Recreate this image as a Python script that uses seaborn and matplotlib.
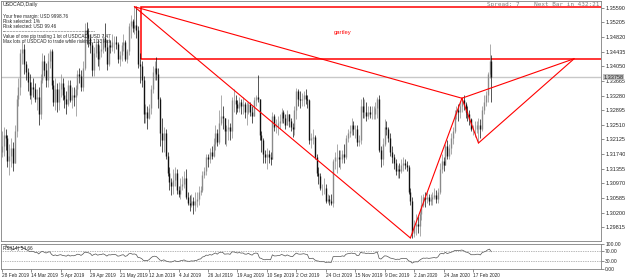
import numpy as np
import pandas as pd
import matplotlib
matplotlib.use('Agg')
import matplotlib.pyplot as plt
import matplotlib.transforms as mtrans
from matplotlib.patches import Rectangle
import seaborn as sns

# USDCAD daily, 20 Feb 2019 .. 2 Mar 2020 (one entry per bar)
closes = [
    # Feb 2019
    1.3195, 1.3225, 1.3215, 1.3155, 1.3170, 1.3190, 1.3150,
    # Mar
    1.3235, 1.3320, 1.3350, 1.3440, 1.3450, 1.3410, 1.3390,
    1.3365, 1.3330, 1.3350, 1.3345, 1.3320, 1.3325, 1.3280, 1.3370, 1.3420, 1.3395, 1.3370, 1.3420, 1.3445, 1.3355,
    # Apr
    1.3310, 1.3345, 1.3310, 1.3345, 1.3360, 1.3330, 1.3320, 1.3305, 1.3355, 1.3315, 1.3330,
    1.3325, 1.3345, 1.3385, 1.3380, 1.3350, 1.3400, 1.3500, 1.3490, 1.3480, 1.3460, 1.3395,
    # May
    1.3440, 1.3465, 1.3425, 1.3445, 1.3450, 1.3480, 1.3455, 1.3410, 1.3460, 1.3455, 1.3470, 1.3470,
    1.3465, 1.3425, 1.3435, 1.3460, 1.3470, 1.3425, 1.3445, 1.3510, 1.3525, 1.3505, 1.3515,
    # Jun
    1.3500, 1.3410, 1.3405, 1.3370, 1.3280, 1.3285, 1.3270, 1.3295, 1.3345, 1.3390,
    1.3400, 1.3385, 1.3320, 1.3230, 1.3210, 1.3230, 1.3170, 1.3125, 1.3100, 1.3090,
    # Jul
    1.3105, 1.3125, 1.3080, 1.3070, 1.3090, 1.3095, 1.3110, 1.3060, 1.3045, 1.3040, 1.3050, 1.3040,
    1.3050, 1.3055, 1.3075, 1.3080, 1.3120, 1.3130, 1.3165, 1.3160, 1.3180, 1.3170, 1.3200,
    # Aug
    1.3230, 1.3205, 1.3255, 1.3275, 1.3270, 1.3235, 1.3240, 1.3245, 1.3235, 1.3315, 1.3315,
    1.3305, 1.3295, 1.3310, 1.3300, 1.3305, 1.3285, 1.3285, 1.3305, 1.3285, 1.3275, 1.3315,
    # Sep
    1.3325, 1.3320, 1.3225, 1.3210, 1.3175, 1.3165, 1.3175, 1.3165, 1.3160, 1.3275, 1.3245,
    1.3245, 1.3255, 1.3260, 1.3285, 1.3270, 1.3250, 1.3280, 1.3260, 1.3245, 1.3240,
    # Oct
    1.3290, 1.3340, 1.3320, 1.3315, 1.3320, 1.3330, 1.3320, 1.3315, 1.3210, 1.3215, 1.3220, 1.3165,
    1.3125, 1.3115, 1.3085, 1.3085, 1.3085, 1.3050, 1.3055, 1.3050, 1.3045, 1.3155, 1.3165,
    # Nov
    1.3165, 1.3160, 1.3160, 1.3175, 1.3165, 1.3215, 1.3230, 1.3235, 1.3250, 1.3240, 1.3240,
    1.3205, 1.3210, 1.3300, 1.3285, 1.3285, 1.3275, 1.3285, 1.3280, 1.3280, 1.3280,
    # Dec
    1.3295, 1.3320, 1.3185, 1.3160, 1.3200, 1.3245, 1.3240, 1.3215, 1.3180, 1.3165, 1.3150,
    1.3130, 1.3135, 1.3130, 1.3145, 1.3150, 1.3145, 1.3140, 1.3075, 1.3050, 1.2965,
    # Jan 2020
    1.2985, 1.2990, 1.2985, 1.3015, 1.3040, 1.3060, 1.3055, 1.3060, 1.3050, 1.3055, 1.3060,
    1.3065, 1.3055, 1.3075, 1.3135, 1.3155, 1.3145, 1.3195, 1.3170, 1.3190, 1.3215, 1.3235,
    # Feb / 2 Mar
    1.3280, 1.3290, 1.3285, 1.3300, 1.3315, 1.3305, 1.3285, 1.3280, 1.3265, 1.3240, 1.3240,
    1.3240, 1.3250, 1.3250, 1.3240, 1.3290, 1.3310, 1.3330, 1.3385, 1.3420, 1.3376,
]
highs = [
    1.3235, 1.3245, 1.3240, 1.3225, 1.3200, 1.3215, 1.3205,
    1.3250, 1.3330, 1.3375, 1.3450, 1.3468, 1.3465, 1.3420,
    1.3400, 1.3385, 1.3365, 1.3375, 1.3360, 1.3345, 1.3350, 1.3385, 1.3440, 1.3435, 1.3415, 1.3440, 1.3450, 1.3450,
    1.3370, 1.3375, 1.3360, 1.3365, 1.3385, 1.3375, 1.3350, 1.3340, 1.3370, 1.3370, 1.3350,
    1.3350, 1.3355, 1.3395, 1.3400, 1.3395, 1.3420, 1.3520, 1.3522, 1.3505, 1.3490, 1.3470,
    1.3455, 1.3480, 1.3475, 1.3460, 1.3470, 1.3490, 1.3520, 1.3475, 1.3480, 1.3475, 1.3490, 1.3485,
    1.3485, 1.3470, 1.3445, 1.3470, 1.3490, 1.3475, 1.3450, 1.3520, 1.3540, 1.3530, 1.3565,
    1.3565, 1.3510, 1.3440, 1.3420, 1.3380, 1.3305, 1.3300, 1.3305, 1.3355, 1.3405,
    1.3420, 1.3430, 1.3400, 1.3325, 1.3270, 1.3245, 1.3240, 1.3180, 1.3140, 1.3110,
    1.3135, 1.3140, 1.3135, 1.3090, 1.3110, 1.3115, 1.3130, 1.3135, 1.3075, 1.3065, 1.3070, 1.3060,
    1.3075, 1.3075, 1.3090, 1.3090, 1.3130, 1.3140, 1.3175, 1.3175, 1.3190, 1.3195, 1.3215,
    1.3250, 1.3240, 1.3290, 1.3330, 1.3300, 1.3270, 1.3250, 1.3265, 1.3255, 1.3325, 1.3345,
    1.3330, 1.3315, 1.3325, 1.3320, 1.3325, 1.3310, 1.3310, 1.3310, 1.3310, 1.3300, 1.3325,
    1.3330, 1.3383, 1.3320, 1.3235, 1.3215, 1.3185, 1.3190, 1.3185, 1.3180, 1.3285, 1.3280,
    1.3265, 1.3275, 1.3280, 1.3295, 1.3290, 1.3280, 1.3290, 1.3280, 1.3270, 1.3255,
    1.3300, 1.3348, 1.3345, 1.3340, 1.3335, 1.3340, 1.3345, 1.3330, 1.3320, 1.3230, 1.3240, 1.3225,
    1.3175, 1.3140, 1.3125, 1.3095, 1.3110, 1.3095, 1.3070, 1.3065, 1.3070, 1.3160, 1.3180,
    1.3200, 1.3185, 1.3185, 1.3185, 1.3200, 1.3225, 1.3240, 1.3250, 1.3270, 1.3260, 1.3250,
    1.3250, 1.3225, 1.3320, 1.3325, 1.3320, 1.3310, 1.3300, 1.3300, 1.3300, 1.3300,
    1.3310, 1.3325, 1.3330, 1.3195, 1.3215, 1.3265, 1.3260, 1.3245, 1.3230, 1.3195, 1.3175,
    1.3160, 1.3145, 1.3150, 1.3160, 1.3165, 1.3160, 1.3155, 1.3145, 1.3085, 1.3060,
    1.3000, 1.3015, 1.3010, 1.3030, 1.3065, 1.3070, 1.3075, 1.3075, 1.3070, 1.3070, 1.3075,
    1.3085, 1.3080, 1.3085, 1.3150, 1.3175, 1.3165, 1.3200, 1.3210, 1.3200, 1.3230, 1.3245,
    1.3290, 1.3300, 1.3305, 1.3310, 1.3325, 1.3330, 1.3310, 1.3300, 1.3290, 1.3270, 1.3250,
    1.3260, 1.3260, 1.3270, 1.3265, 1.3300, 1.3330, 1.3340, 1.3390, 1.3465, 1.3435,
]
lows = [
    1.3165, 1.3170, 1.3185, 1.3140, 1.3120, 1.3140, 1.3130,
    1.3150, 1.3220, 1.3300, 1.3330, 1.3410, 1.3385, 1.3370,
    1.3340, 1.3320, 1.3305, 1.3325, 1.3310, 1.3290, 1.3250, 1.3265, 1.3360, 1.3380, 1.3350, 1.3350, 1.3400, 1.3345,
    1.3300, 1.3290, 1.3285, 1.3290, 1.3325, 1.3315, 1.3295, 1.3280, 1.3300, 1.3310, 1.3295,
    1.3300, 1.3275, 1.3330, 1.3360, 1.3340, 1.3340, 1.3395, 1.3465, 1.3455, 1.3440, 1.3380,
    1.3380, 1.3430, 1.3405, 1.3395, 1.3430, 1.3440, 1.3445, 1.3395, 1.3405, 1.3440, 1.3445, 1.3440,
    1.3450, 1.3415, 1.3405, 1.3420, 1.3445, 1.3420, 1.3415, 1.3435, 1.3480, 1.3495, 1.3490,
    1.3480, 1.3400, 1.3360, 1.3350, 1.3255, 1.3255, 1.3240, 1.3265, 1.3280, 1.3335,
    1.3370, 1.3370, 1.3295, 1.3195, 1.3180, 1.3180, 1.3160, 1.3115, 1.3080, 1.3065,
    1.3070, 1.3090, 1.3070, 1.3060, 1.3055, 1.3080, 1.3085, 1.3055, 1.3040, 1.3025, 1.3035, 1.3015,
    1.3025, 1.3035, 1.3040, 1.3065, 1.3075, 1.3110, 1.3120, 1.3140, 1.3150, 1.3160, 1.3165,
    1.3185, 1.3195, 1.3200, 1.3250, 1.3240, 1.3200, 1.3195, 1.3210, 1.3210, 1.3215, 1.3285,
    1.3280, 1.3285, 1.3285, 1.3280, 1.3280, 1.3270, 1.3250, 1.3280, 1.3275, 1.3255, 1.3275,
    1.3300, 1.3310, 1.3210, 1.3180, 1.3150, 1.3150, 1.3135, 1.3150, 1.3145, 1.3160, 1.3235,
    1.3230, 1.3225, 1.3240, 1.3255, 1.3255, 1.3240, 1.3250, 1.3245, 1.3235, 1.3220,
    1.3225, 1.3265, 1.3300, 1.3295, 1.3300, 1.3300, 1.3305, 1.3295, 1.3200, 1.3190, 1.3200, 1.3160,
    1.3115, 1.3095, 1.3080, 1.3065, 1.3070, 1.3045, 1.3045, 1.3040, 1.3040, 1.3035, 1.3135,
    1.3125, 1.3140, 1.3135, 1.3150, 1.3150, 1.3160, 1.3205, 1.3220, 1.3225, 1.3225, 1.3215,
    1.3195, 1.3195, 1.3200, 1.3270, 1.3270, 1.3260, 1.3265, 1.3270, 1.3265, 1.3265,
    1.3265, 1.3270, 1.3180, 1.3140, 1.3145, 1.3195, 1.3225, 1.3205, 1.3170, 1.3150, 1.3135,
    1.3120, 1.3110, 1.3110, 1.3125, 1.3130, 1.3135, 1.3130, 1.3070, 1.3040, 1.2953,
    1.2955, 1.2960, 1.2965, 1.2957, 1.3000, 1.3035, 1.3035, 1.3045, 1.3040, 1.3040, 1.3040,
    1.3055, 1.3045, 1.3045, 1.3070, 1.3125, 1.3130, 1.3145, 1.3160, 1.3160, 1.3175, 1.3200,
    1.3230, 1.3265, 1.3260, 1.3270, 1.3285, 1.3290, 1.3270, 1.3260, 1.3250, 1.3235, 1.3225,
    1.3220, 1.3230, 1.3205, 1.3215, 1.3235, 1.3280, 1.3300, 1.3310, 1.3375, 1.3310,
]
first_open = 1.3180

# gartley points X, A, B, C, D (bar index, price)
pattern_bars = [72, 222, 250, 259, 311]
pattern_prices = [1.3562, 1.2953, 1.3321, 1.3203, 1.3425]
box_left_bar = 75.5

current_price = 1.3376
current_label = '1.33758'
price_ticks = [1.35590, 1.35205, 1.34820, 1.34435, 1.34050, 1.33665, 1.33280, 1.32895,
               1.32510, 1.32125, 1.31740, 1.31355, 1.30970, 1.30585, 1.30200, 1.29815]
date_labels = ['28 Feb 2019', '14 Mar 2019', '5 Apr 2019', '29 Apr 2019', '21 May 2019',
               '12 Jun 2019', '4 Jul 2019', '26 Jul 2019', '19 Aug 2019', '10 Sep 2019',
               '2 Oct 2019', '24 Oct 2019', '15 Nov 2019', '9 Dec 2019', '2 Jan 2020',
               '24 Jan 2020', '17 Feb 2020']
info_lines = ['Your free margin: USD 9998.76', 'Risk selected: 1%', 'Risk selected: USD 99.46',
              '-' * 62,
              'Value of one pip trading 1 lot of USDCAD: USD 7.47',
              'Max lots of USDCAD to trade while risking: 1.33 lots']

sns.set_style('white')
plt.rcParams['font.family'] = ['Liberation Sans', 'DejaVu Sans']

close = np.array(closes)
opens = np.r_[first_open, close[:-1]]
high = np.maximum(np.array(highs), np.maximum(opens, close))
low = np.minimum(np.array(lows), np.minimum(opens, close))
bars = np.arange(len(close))
up = close >= opens

# RSI(14), Wilder smoothing
delta = pd.Series(close).diff()
gain = delta.clip(lower=0).ewm(alpha=1 / 14, adjust=False, min_periods=1).mean()
loss = (-delta.clip(upper=0)).ewm(alpha=1 / 14, adjust=False, min_periods=1).mean()
rsi = 100 - 100 / (1 + gain / loss)
rsi_df = pd.DataFrame({'bar': bars, 'rsi': rsi})

fig = plt.figure(figsize=(6.25, 2.79), dpi=100)
ax = fig.add_axes([0.0016, 0.1362, 0.96, 0.8602])
ax_rsi = fig.add_axes([0.0016, 0.0376, 0.96, 0.0878], sharex=ax)

ax.axhline(current_price, color='#c8c8c8', lw=1.0, zorder=0)

bull, bear = '#8a8a8a', '#111111'
ax.vlines(bars[up], low[up], high[up], color=bull, lw=0.5)
ax.vlines(bars[~up], low[~up], high[~up], color=bear, lw=0.5)
ax.vlines(bars[up], opens[up], close[up], color=bull, lw=1.0)
ax.vlines(bars[~up], close[~up], opens[~up], color=bear, lw=1.0)

# gartley drawing
for i, j in [(0, 1), (1, 2), (2, 3), (3, 4), (0, 2), (2, 4)]:
    ax.plot([pattern_bars[i], pattern_bars[j]], [pattern_prices[i], pattern_prices[j]],
            color='red', lw=0.8)
ax.add_patch(Rectangle((box_left_bar, pattern_prices[4]), 400,
                       pattern_prices[0] - pattern_prices[4],
                       fill=False, ec='red', lw=1.1))
ax.text(185, 1.3494, 'gartley', color='red', fontsize=4.2, ha='center', va='center')

ax.set_xlim(-0.5, 325.6)
ax.set_ylim(1.2945, 1.3577)
ax.yaxis.tick_right()
ax.set_yticks(price_ticks)
ax.set_yticklabels(['%.5f' % p for p in price_ticks])
ax.tick_params(axis='y', labelsize=4, length=2, pad=1, width=0.5, color='#606060', right=True)
ax.tick_params(axis='x', bottom=False, labelbottom=False)
tr = mtrans.blended_transform_factory(ax.transAxes, ax.transData)
ax.text(1.004, current_price, current_label, transform=tr, fontsize=4, ha='left', va='center',
        bbox=dict(fc='#c0c0c0', ec='none', pad=0.4), clip_on=False)

ax.text(0.003, 0.995, 'USDCAD,Daily', transform=ax.transAxes, fontsize=3.8, va='top')
ys = [0.945, 0.925, 0.904, 0.884, 0.862, 0.841]
for y, t in zip(ys, info_lines):
    ax.text(0.003, y, t, transform=ax.transAxes, fontsize=3.3, va='top')
ax.text(0.997, 0.995, 'Spread: 7    Next Bar in 432:21', transform=ax.transAxes,
        fontsize=4.3, va='top', ha='right', color='#808080', family='DejaVu Sans Mono')

# RSI window
sns.lineplot(data=rsi_df, x='bar', y='rsi', ax=ax_rsi, color='#505050', lw=0.5)
ax_rsi.axhline(70, ls=(0, (1, 1.5)), color='#707070', lw=0.5)
ax_rsi.axhline(30, ls=(0, (1, 1.5)), color='#707070', lw=0.5)
ax_rsi.set_ylim(0, 100)
ax_rsi.set_xlabel('')
ax_rsi.set_ylabel('')
ax_rsi.yaxis.tick_right()
ax_rsi.set_yticks([100, 70, 30, 0])
ax_rsi.set_yticklabels(['100.00', '70.00', '30.00', '0.00'])
ax_rsi.tick_params(axis='y', labelsize=3.6, length=2, pad=1, width=0.5, color='#606060', right=True)
ax_rsi.set_xticks(np.arange(len(date_labels)) * 16)
ax_rsi.set_xticklabels(date_labels, ha='left')
ax_rsi.tick_params(axis='x', labelsize=3.4, length=2, pad=1, width=0.5, color='#606060', bottom=True)
ax_rsi.text(0.003, 0.92, 'RSI(14) 54.66', transform=ax_rsi.transAxes, fontsize=3.4, va='top')

for a in (ax, ax_rsi):
    for s in a.spines.values():
        s.set_color('#808080')
        s.set_linewidth(0.6)

fig.savefig('out.png', dpi=100)
